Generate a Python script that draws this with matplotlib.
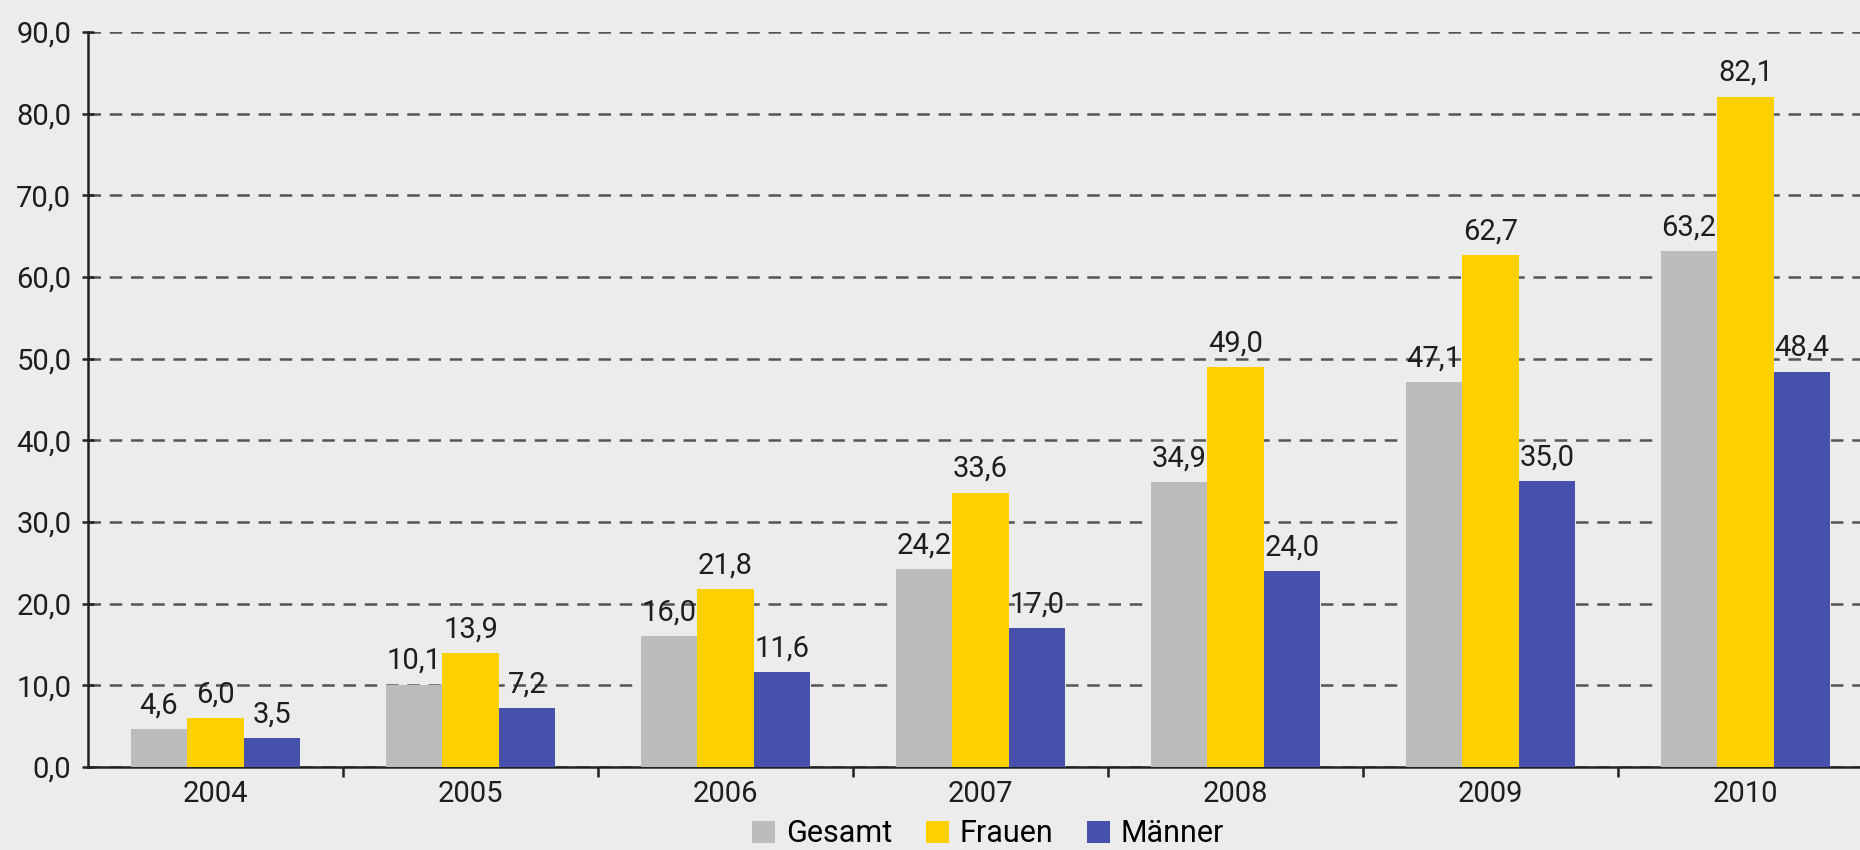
import numpy as np
from matplotlib import pyplot as plt
from matplotlib.patches import Patch

plt.rcParams['font.family'] = ['Roboto', 'DejaVu Sans']
plt.rcParams['font.stretch'] = 'condensed'

years = ['2004', '2005', '2006', '2007', '2008', '2009', '2010']
gesamt = [4.6, 10.1, 16.0, 24.2, 34.9, 47.1, 63.2]
frauen = [6.0, 13.9, 21.8, 33.6, 49.0, 62.7, 82.1]
maenner = [3.5, 7.2, 11.6, 17.0, 24.0, 35.0, 48.4]
series_names = ['Gesamt', 'Frauen', 'Männer']
colors = ['#bcbcbc', '#fdd000', '#4751ad']
bg = '#ececec'
txt = '#1e1e1e'


def fmt(v):
    return f"{v:.1f}".replace('.', ',')


fig = plt.figure(figsize=(18.6, 8.5), dpi=100, facecolor=bg)
ax = fig.add_axes([88 / 1860, 83 / 850, 1785 / 1860, 735 / 850])
ax.set_facecolor(bg)

x = np.arange(len(years))
width = 0.222
for k, vals in enumerate([gesamt, frauen, maenner]):
    pos = x + (k - 1) * width
    ax.bar(pos, vals, width, color=colors[k], zorder=3)
    for p, v in zip(pos, vals):
        ax.annotate(fmt(v), (p, v), xytext=(0, 7), textcoords='offset points',
                    ha='center', va='bottom', fontsize=21, color=txt, zorder=4)

ax.set_xlim(-0.5, len(years) - 0.5)
ax.set_ylim(0, 90)
ax.set_yticks(np.arange(0, 91, 10))
ax.set_yticklabels([fmt(v) for v in np.arange(0, 91, 10)], fontsize=21, color=txt)
ax.yaxis.grid(True, linestyle=(0, (5, 3.5)), color='#555555', linewidth=1.8, zorder=1)
ax.set_axisbelow(True)

ax.set_xticks(x)
ax.set_xticklabels(years, fontsize=21, color=txt)
ax.set_xticks(np.arange(0.5, len(years) - 0.5, 1), minor=True)
ax.tick_params(axis='x', which='major', length=0, pad=9)
ax.tick_params(axis='x', which='minor', length=7, width=1.8, direction='out', color='#222222')
ax.tick_params(axis='y', length=8, width=1.8, direction='inout', color='#222222', pad=8)

for s in ['top', 'right']:
    ax.spines[s].set_visible(False)
for s in ['left', 'bottom']:
    ax.spines[s].set_linewidth(1.8)
    ax.spines[s].set_color('#222222')

handles = [Patch(facecolor=c, label=n) for c, n in zip(colors, series_names)]
fig.legend(handles=handles, loc='center', bbox_to_anchor=(988 / 1860, 1 - 834 / 850),
           ncol=3, frameon=False, handlelength=0.75, handleheight=0.75,
           handletextpad=0.35, columnspacing=1.1, prop={'size': 22})

fig.savefig('out.png', dpi=100, facecolor=bg)
